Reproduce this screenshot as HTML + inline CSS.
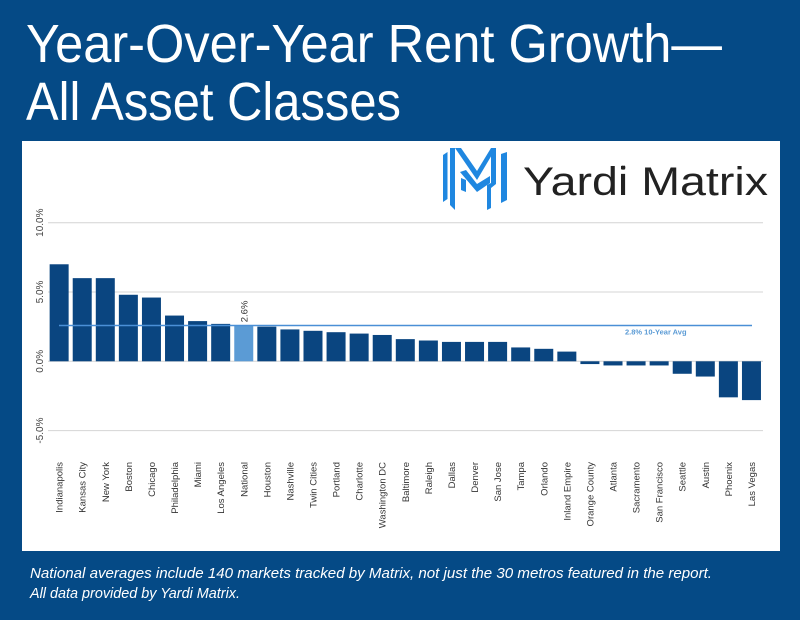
<!DOCTYPE html>
<html><head><meta charset="utf-8">
<style>
html,body{margin:0;padding:0;background:#054a86;}
svg{display:block;}
</style></head>
<body>
<svg id="chart" width="800" height="620" viewBox="0 0 800 620">
  <rect x="0" y="0" width="800" height="620" fill="#054a86"/>
  <text x="26" y="62" font-family="'Liberation Sans Narrow','Liberation Sans',sans-serif" font-size="54" fill="#fff" textLength="696" lengthAdjust="spacingAndGlyphs">Year-Over-Year Rent Growth—</text>
  <text x="26" y="120" font-family="'Liberation Sans Narrow','Liberation Sans',sans-serif" font-size="54" fill="#fff" textLength="375" lengthAdjust="spacingAndGlyphs">All Asset Classes</text>
  <rect x="22" y="141" width="758" height="410" fill="#fff"/>
  <g>
    <g fill="#1f87e0">
      <polygon points="443,155 447.5,152 447.5,199 443,202"/>
      <polygon points="450,148 455,148 455,210 450,205"/>
      <polygon points="455,148 461,148 477,171 477,180"/>
      <polygon points="496,148 491,148 477,171 477,180"/>
      <polygon points="491,148 496,148 496,184 491,188"/>
      <polygon points="501,154 507,152 507,200 501,203"/>
      <polygon points="460,172 466,170 477,184 477,192"/>
      <polygon points="477,184 490,176 490,183 477,192"/>
      <polygon points="461,178 466,180 466,192 461,190"/>
      <polygon points="487,185 491,183 491,208 487,210"/>
    </g>
    <text x="523" y="195" font-family="'Liberation Sans','DejaVu Sans',sans-serif" font-size="40" fill="#222" textLength="245" lengthAdjust="spacingAndGlyphs">Yardi Matrix</text>
    <text x="621" y="170" font-family="'Liberation Sans',sans-serif" font-size="6" fill="#222">®</text>
  </g>
  <g id="plot"></g>
  <text x="30" y="578" font-family="'Liberation Sans Narrow','Liberation Sans',sans-serif" font-style="italic" font-size="15" fill="#fff" textLength="682" lengthAdjust="spacingAndGlyphs">National averages include 140 markets tracked by Matrix, not just the 30 metros featured in the report.</text>
  <text x="30" y="598" font-family="'Liberation Sans Narrow','Liberation Sans',sans-serif" font-style="italic" font-size="15" fill="#fff" textLength="210" lengthAdjust="spacingAndGlyphs">All data provided by Yardi Matrix.</text>
</svg>
<script>
const categories = ["Indianapolis","Kansas City","New York","Boston","Chicago","Philadelphia","Miami","Los Angeles","National","Houston","Nashville","Twin Cities","Portland","Charlotte","Washington DC","Baltimore","Raleigh","Dallas","Denver","San Jose","Tampa","Orlando","Inland Empire","Orange County","Atlanta","Sacramento","San Francisco","Seattle","Austin","Phoenix","Las Vegas"];
const growthValues = [7.0,6.0,6.0,4.8,4.6,3.3,2.9,2.7,2.6,2.5,2.3,2.2,2.1,2.0,1.9,1.6,1.5,1.4,1.4,1.4,1.0,0.9,0.7,-0.2,-0.3,-0.3,-0.3,-0.9,-1.1,-2.6,-2.8];
const yTicks = [10,5,0,-5];
const tickLabels = ["10.0%","5.0%","0.0%","-5.0%"];
const highlightCategory = "National";
const tenYearAvg = 2.8;
const avgLabel = "2.8% 10-Year Avg";

const NS = "http://www.w3.org/2000/svg";
const plot = document.getElementById("plot");
const x0 = 47.6, x1 = 763;
const band = (x1 - x0) / categories.length;
const y = v => 361.3 - v * (69.3 / 5);
const xc = i => x0 + band * (i + 0.5);
function mk(tag, attrs){ const e = document.createElementNS(NS, tag); for (const k in attrs) e.setAttribute(k, attrs[k]); plot.appendChild(e); return e; }

yTicks.forEach((t, i) => {
  const g = mk("line", {x1: 48, x2: x1, y1: y(t), y2: y(t), stroke: "#d4d4d4", "stroke-width": 1});
  
  
  const lbl = mk("text", {x: 0, y: 0, transform: `translate(43,${y(t)}) rotate(-90)`, "text-anchor": "middle", "font-family": "'Liberation Sans',sans-serif", "font-size": 10, fill: "#444"});
  lbl.textContent = tickLabels[i];
  
  
});

categories.forEach((c, i) => {
  const v = growthValues[i];
  const top = Math.min(y(v), y(0)), h = Math.abs(y(v) - y(0));
  const r = mk("rect", {x: xc(i) - 9.5, y: top, width: 19, height: h, fill: c === highlightCategory ? "#5b9bd5" : "#0a4580"});
  
  
  const t = mk("text", {x: 0, y: 0, transform: `translate(${xc(i) + 3.5},462) rotate(-90)`, "text-anchor": "end", "font-family": "'Liberation Sans',sans-serif", "font-size": 9.5, fill: "#333"});
  t.textContent = c;
  
  
  if (c === highlightCategory) {
    const vl = mk("text", {x: 0, y: 0, transform: `translate(${xc(i) + 3.5},${y(v) - 3}) rotate(-90)`, "text-anchor": "start", "font-family": "'Liberation Sans',sans-serif", "font-size": 9.5, fill: "#333"});
    vl.textContent = v.toFixed(1) + "%";
    
    
  }
});

const ya = y(tenYearAvg) + 3;
const al = mk("line", {x1: 59, x2: 752, y1: ya, y2: ya, stroke: "#4a8fd6", "stroke-width": 1.5});


const at = mk("text", {x: 625, y: ya + 9, "font-family": "'Liberation Sans',sans-serif", "font-size": 7.5, "font-weight": "bold", fill: "#5b9bd5"});
at.textContent = avgLabel;


</script>
</body></html>
